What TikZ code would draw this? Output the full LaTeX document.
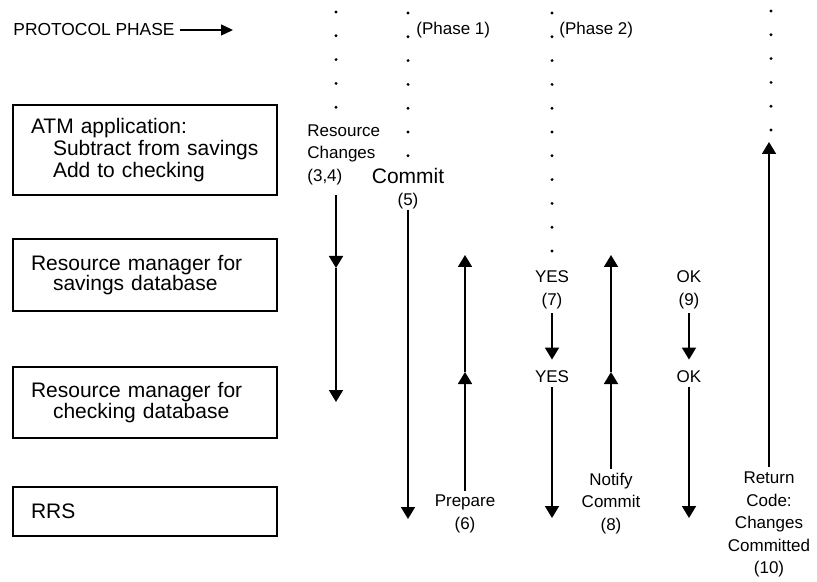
\documentclass[tikz,border=0pt]{standalone}
\usepackage{fontspec}
\setmainfont{Liberation Sans}
\usetikzlibrary{arrows.meta}
\tikzset{box node/.style={draw,line width=0.8pt,minimum width=132pt,inner xsep=9pt,text width=114pt,align=left,font=\fontsize{10.5}{11.2}\selectfont},
            label node/.style={align=center,inner sep=2pt,font=\fontsize{8.5}{11.25}\selectfont},
            flow/.style={line width=0.9pt,-{Triangle[length=6pt,width=7pt]}},
            dot line/.style={line width=1.6pt,line cap=round,dash pattern=on 0pt off 11.9pt},
            }

\begin{document}
\begin{tikzpicture}[x=0.5pt,y=-0.5pt]
    \useasboundingbox (0,0) rectangle (817,582);

    % dotted phase lines
    \draw[dot line] (336,12) -- (336,108);
    \draw[dot line] (408,13) -- (408,156.5);
    \draw[dot line] (552,13) -- (552,252);
    \draw[dot line] (771,11) -- (771,131);

    \node[label node,anchor=west,inner sep=0pt,font=\fontsize{8.7}{10}\selectfont] (phase) at (13,30) {PROTOCOL PHASE};
    \coordinate (phasetip) at (233,30);
    \draw[line width=0.7pt,-{Triangle[length=6pt,width=5.5pt]}] ([xshift=2.5pt]phase.east) -- (phasetip);
    \node[label node,anchor=west,inner sep=0pt] (phase1) at (416,30.5) {(Phase 1)};
    \node[label node,anchor=west,inner sep=0pt] (phase2) at (559,30.5) {(Phase 2)};

    % boxes
    \node[box node,minimum height=45pt] (atm) at (145,150) {ATM application:\\\hspace*{11pt}Subtract from savings\\\hspace*{11pt}Add to checking};
    \node[box node,minimum height=36pt,font=\fontsize{10.5}{10.2}\selectfont] (savings) at (145,275) {Resource manager for\\\hspace*{11pt}savings database};
    \node[box node,minimum height=35.5pt,font=\fontsize{10.5}{10.2}\selectfont] (checking) at (145,402.5) {Resource manager for\\\hspace*{11pt}checking database};
    \node[box node,minimum height=24.5pt] (rrs) at (145,511.5) {RRS};

    % labels
    \node[label node,align=left,anchor=north west] (changes) at (303,120) {Resource\\Changes\\(3,4)};
    \node[label node,inner ysep=0pt] (commit) at (408,188.5) {{\fontsize{10.5}{12}\selectfont Commit}\\(5)};
    \node[label node] (prepare) at (465,514) {Prepare\\(6)};
    \node[label node] (yes7) at (552,290) {YES\\(7)};
    \node[label node] (yes) at (552,377) {YES};
    \node[label node] (notify) at (611,503.5) {Notify\\Commit\\(8)};
    \node[label node] (ok9) at (689,290) {OK\\(9)};
    \node[label node] (ok) at (689,377) {OK};
    \node[label node] (retcode) at (769,524.5) {Return\\Code:\\Changes\\Committed\\(10)};

    \coordinate (rcmid) at (336,268);
    \coordinate (rcend) at (336,402);
    \coordinate (commitend) at (408,519);
    \coordinate (prepmid) at (465,372);
    \coordinate (preptop) at (465,255);
    \coordinate (yesend) at (552,518);
    \coordinate (notemid) at (611,372);
    \coordinate (notetop) at (611,255);
    \coordinate (okend) at (689,518);
    \coordinate (rettop) at (769,142);

    % messages
    \draw[flow,shorten <=3pt] (changes.south -| rcmid) -- (rcmid);
    \draw[flow] (rcmid) -- (rcend);
    \draw[flow] (commit.south) -- (commitend);
    \draw[flow] (prepare.north) -- (prepmid);
    \draw[flow] (prepmid) -- (preptop);
    \draw[flow,shorten >=3.5pt] (yes7) -- (yes);
    \draw[flow] (yes.south) -- (yesend);
    \draw[flow] (notify.north) -- (notemid);
    \draw[flow] (notemid) -- (notetop);
    \draw[flow,shorten >=3.5pt] (ok9) -- (ok);
    \draw[flow] (ok.south) -- (okend);
    \draw[flow] (retcode.north) -- (rettop);
\end{tikzpicture}
\end{document}
